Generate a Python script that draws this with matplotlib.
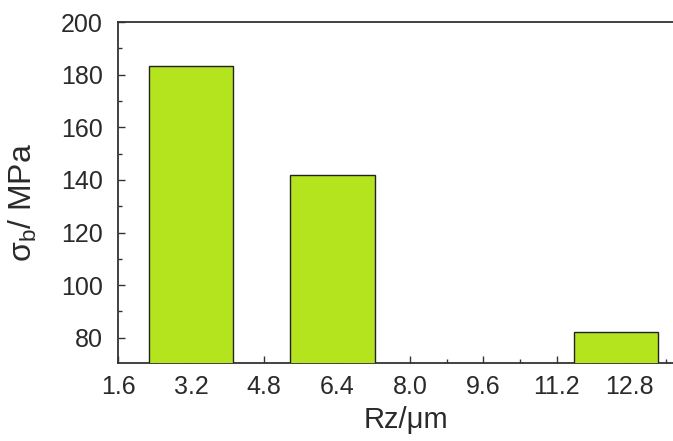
import matplotlib
matplotlib.use("Agg")
import matplotlib.pyplot as plt
from matplotlib.ticker import MultipleLocator, FixedLocator

plt.rcParams['font.family'] = ['Liberation Sans', 'DejaVu Sans']
plt.rcParams['mathtext.fontset'] = 'custom'
plt.rcParams['mathtext.rm'] = 'Liberation Sans'
plt.rcParams['mathtext.it'] = 'Liberation Sans:italic'

rz = [3.2, 6.3, 12.5]
strength = [183.2, 142.0, 82.0]
xticks = [1.6, 3.2, 4.8, 6.4, 8.0, 9.6, 11.2, 12.8]
xtick_labels = ['1.6', '3.2', '4.8', '6.4', '8.0', '9.6', '11.2', '12.8']
yticks = [80, 100, 120, 140, 160, 180, 200]

fig = plt.figure(figsize=(6.73, 4.41), dpi=100)
left_px = 118.0
ax = fig.add_axes([left_px/673, 1-362.7/441, 1-left_px/673, (362.7-22.1)/441])

ax.bar(rz, strength, width=1.85, color='#b4e41e', edgecolor='#222222', linewidth=1.0, zorder=3)

ax.set_xlim(1.6, 13.75)
ax.set_ylim(70.5, 200)
ax.xaxis.set_major_locator(FixedLocator(xticks))
ax.set_xticklabels(xtick_labels)
ax.xaxis.set_minor_locator(MultipleLocator(0.8))
ax.yaxis.set_major_locator(FixedLocator(yticks))
ax.yaxis.set_minor_locator(MultipleLocator(10))

ax.tick_params(axis='both', which='major', direction='in', length=5, width=1, colors='#333333',
               labelsize=18, labelcolor='#2a2a2a')
ax.tick_params(axis='both', which='minor', direction='in', length=3, width=1, colors='#333333')
ax.tick_params(axis='x', pad=9)
ax.tick_params(axis='y', pad=11)

for s in ['left', 'bottom', 'top']:
    ax.spines[s].set_color('#333333')
    ax.spines[s].set_linewidth(1.3)
ax.spines['right'].set_visible(False)

ax.set_xlabel('Rz/μm', fontsize=21, color='#2a2a2a')
ax.xaxis.set_label_coords(0.519, -0.128)
ax.set_ylabel(r'σ$_\mathrm{b}$/ MPa', fontsize=23, color='#2a2a2a')
ax.yaxis.set_label_coords(-0.142, 0.47)

fig.savefig('out.png', dpi=100)
